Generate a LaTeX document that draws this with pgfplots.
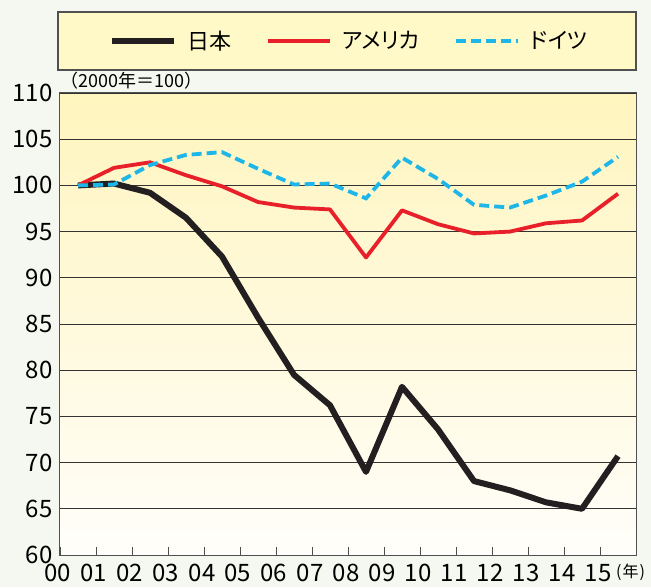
\documentclass[border=0pt]{standalone}
\usepackage{fontspec}
\setmainfont{Noto Sans CJK JP}
\newfontfamily\paltfont[RawFeature=+palt]{Noto Sans CJK JP}
\usepackage{pgfplots}
\pgfplotsset{compat=1.18}
\definecolor{pagebg}{RGB}{245,248,240}
\definecolor{legbg}{RGB}{255,249,200}
\definecolor{plottop}{RGB}{255,245,190}
\definecolor{plotbot}{RGB}{255,254,250}
\definecolor{framegray}{RGB}{80,80,80}
\definecolor{jpblack}{RGB}{35,31,32}
\definecolor{usred}{RGB}{232,32,42}
\definecolor{decyan}{RGB}{30,182,232}
\begin{document}
\begin{tikzpicture}[x=1pt,y=1pt]
\useasboundingbox (-60,-32) rectangle (591,555);
\fill[pagebg] (-60,-32) rectangle (591,555);
\draw[line width=1.5pt, draw=framegray, fill=legbg] (-2,485) rectangle (576,543);
\begin{axis}[
  at={(0,0)}, anchor=south west,
  scale only axis, width=576pt, height=462pt,
  xmin=0, xmax=16, ymin=60, ymax=110,
  xtick={0,...,16},
  xticklabels={00,01,02,03,04,05,06,07,08,09,10,11,12,13,14,15,},
  ytick={60,65,...,110},
  xtick pos=bottom, ytick pos=left,
  xtick align=inside,
  x tick style={draw=framegray, line width=0.8pt},
  y tick style={draw=none},
  major tick length=8pt,
  ymajorgrids,
  grid style={draw=black!80, line width=0.8pt},
  axis line style={draw=framegray, line width=1pt},
  axis background/.style={top color=plottop, bottom color=plotbot},
  /pgf/number format/assume math mode=true,
  tick label style={font=\fontsize{24}{24}\selectfont},
  xticklabel style={yshift=-6pt, xshift=-2pt},
  yticklabel style={xshift=-4pt},
  clip=false,
  legend style={at={(rel axis cs:0.502,1.1126)}, anchor=center, draw=none, fill=none,
    font=\paltfont\fontsize{22}{22}\selectfont, legend columns=3,
    /tikz/every odd column/.append style={column sep=9pt},
    /tikz/every even column/.append style={column sep=32pt}},
  legend image code/.code={\draw[#1] (0pt,0pt) -- (62pt,0pt);},
]
\addplot[jpblack, line width=6pt, line join=round] coordinates {
(0.5,100) (1.5,100.2) (2.5,99.2) (3.5,96.5) (4.5,92.3) (5.5,85.7) (6.5,79.5) (7.5,76.2)
(8.5,69.0) (9.5,78.2) (10.5,73.6) (11.5,68.0) (12.5,67.0) (13.5,65.7) (14.5,65.0) (15.5,70.7)};
\addlegendentry{日本}
\addplot[usred, line width=3.8pt, line join=round] coordinates {
(0.5,100) (1.5,101.9) (2.5,102.5) (3.5,101.1) (4.5,99.9) (5.5,98.2) (6.5,97.6) (7.5,97.4)
(8.5,92.2) (9.5,97.3) (10.5,95.8) (11.5,94.8) (12.5,95.0) (13.5,95.9) (14.5,96.2) (15.5,99.1)};
\addlegendentry{アメリカ}
\addplot[decyan, line width=3.8pt, dash pattern=on 10pt off 5pt] coordinates {
(0.5,100) (1.5,100.1) (2.5,102.2) (3.5,103.3) (4.5,103.6) (5.5,101.8) (6.5,100.1) (7.5,100.2)
(8.5,98.6) (9.5,103.0) (10.5,100.7) (11.5,97.9) (12.5,97.6) (13.5,98.9) (14.5,100.4) (15.5,103.1)};
\addlegendentry{ドイツ}
\node[anchor=south west, inner sep=0pt, font=\fontsize{18}{18}\selectfont] at (rel axis cs:0,1) [yshift=4pt] {（2000年＝100）};
\node[anchor=north west, inner sep=0pt, font=\fontsize{16}{16}\selectfont] at (rel axis cs:1,0) [xshift=-20pt, yshift=-9pt] {(\hspace{1pt}年\hspace{1pt})};
\end{axis}
\end{tikzpicture}
\end{document}
